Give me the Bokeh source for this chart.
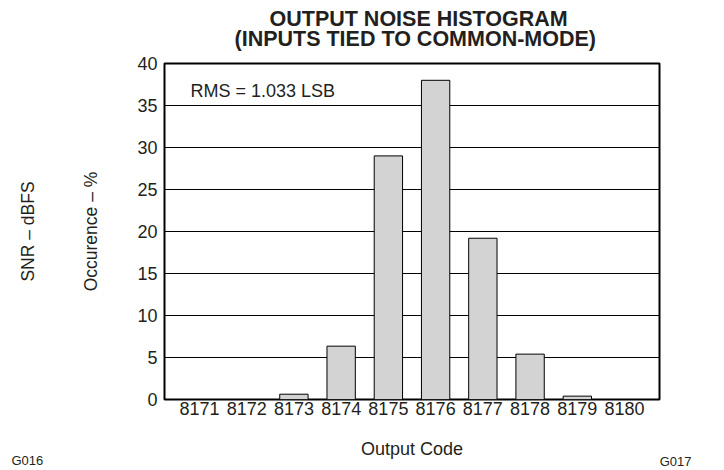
from bokeh.plotting import figure
from bokeh.models import Range1d, FixedTicker, Label, ColumnDataSource, LinearAxis, Title
from bokeh.embed import file_html
from bokeh.resources import INLINE

# ---- data ----
codes = [8171, 8172, 8173, 8174, 8175, 8176, 8177, 8178, 8179, 8180]
occurrence = [0.0, 0.0, 0.63, 6.35, 29.0, 38.0, 19.2, 5.4, 0.4, 0.0]
y_ticks = [0, 5, 10, 15, 20, 25, 30, 35, 40]
x_tick_labels = [str(c) for c in codes]

title_lines = ["OUTPUT NOISE HISTOGRAM", "(INPUTS TIED TO COMMON-MODE)"]
rms_text = "RMS = 1.033 LSB"
x_label = "Output Code"
y_label = "Occurence – %"
y_label_outer = "SNR – dBFS"
fig_codes = ["G016", "G017"]

FONT = "Liberation Sans"
TXT = "#231f20"

p = figure(width=724, height=470, output_backend="svg", toolbar_location=None,
           x_range=Range1d(8170.26, 8180.74), y_range=Range1d(0, 40),
           min_border_left=164, min_border_right=65, min_border_top=63,
           min_border_bottom=71)
p.background_fill_color = "white"
p.border_fill_color = "white"
p.outline_line_color = "black"
p.outline_line_width = 2

src = ColumnDataSource(dict(x=codes, top=occurrence))
p.vbar(x="x", top="top", bottom=0, width=0.6, source=src,
       fill_color="#d3d3d3", line_color="black", line_width=1)

# ---- axes ----
p.xaxis.ticker = FixedTicker(ticks=codes)
p.xaxis.major_label_overrides = {c: s for c, s in zip(codes, x_tick_labels)}
p.yaxis.ticker = FixedTicker(ticks=y_ticks)
for ax in (p.xaxis[0], p.yaxis[0]):
    ax.axis_line_color = None
    ax.major_tick_line_color = None
    ax.minor_tick_line_color = None
    ax.major_tick_out = 0
    ax.major_tick_in = 0
    ax.minor_tick_out = 0
    ax.minor_tick_in = 0
    ax.major_label_text_font = FONT
    ax.major_label_text_font_size = "18px"
    ax.major_label_text_color = TXT
    ax.axis_label_text_font = FONT
    ax.axis_label_text_font_style = "normal"
    ax.axis_label_text_color = TXT
p.xaxis.major_label_standoff = 2
p.yaxis.major_label_standoff = 7

p.xaxis.axis_label = x_label
p.xaxis.axis_label_text_font_size = "18px"
p.xaxis.axis_label_standoff = 21

p.yaxis.axis_label = y_label
p.yaxis.axis_label_text_font_size = "17.5px"
p.yaxis.axis_label_standoff = 33

outer = LinearAxis(ticker=FixedTicker(ticks=[]), axis_label=y_label_outer,
                   axis_line_color=None, major_tick_out=0, major_tick_in=0,
                   minor_tick_out=0, minor_tick_in=0, major_label_standoff=0,
                   axis_label_standoff=41, axis_label_text_font=FONT,
                   axis_label_text_font_size="17.5px",
                   axis_label_text_font_style="normal",
                   axis_label_text_color=TXT)
p.add_layout(outer, "left")

p.xgrid.grid_line_color = None
p.ygrid.ticker = FixedTicker(ticks=y_ticks)
p.ygrid.grid_line_color = "black"
p.ygrid.grid_line_width = 1

# ---- title: two centred lines, each its own row ----
p.title.text = ""
p.title.visible = False
t_line2 = Title(text=title_lines[1], align="left", vertical_align="bottom",
                offset=70, standoff=24.6, text_font=FONT,
                text_font_size="21.5px", text_font_style="bold", text_color=TXT)
t_line1 = Title(text=title_lines[0], align="left", vertical_align="bottom",
                offset=105, standoff=-37.6, text_font=FONT,
                text_font_size="21.5px", text_font_style="bold", text_color=TXT)
p.add_layout(t_line2, "above")
p.add_layout(t_line1, "above")

# ---- figure codes (zero-height rows under the x-axis) ----
g_left = Title(text=fig_codes[0], align="left", vertical_align="top",
               offset=-153, standoff=-16.5, text_font=FONT,
               text_font_size="13px", text_font_style="normal", text_color=TXT)
g_right = Title(text=fig_codes[1], align="right", vertical_align="top",
                offset=-32, standoff=-16.5, text_font=FONT,
                text_font_size="13px", text_font_style="normal", text_color=TXT)
p.add_layout(g_left, "below")
p.add_layout(g_right, "below")

# ---- RMS annotation inside the frame ----
p.add_layout(Label(x=190, y=90, x_units="canvas", y_units="canvas",
                   text=rms_text, text_font=FONT, text_font_size="18px",
                   text_align="left", text_baseline="alphabetic",
                   text_color=TXT))

open("out.html", "w").write(file_html(p, INLINE))
